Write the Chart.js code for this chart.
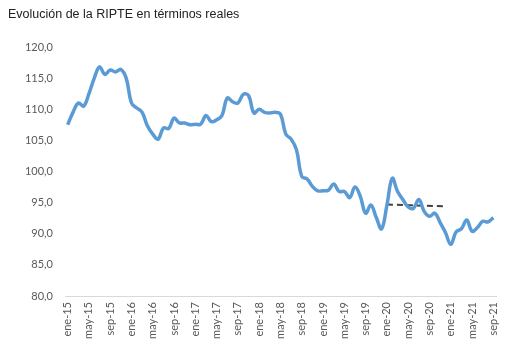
<!DOCTYPE html>
<html>
<head>
<meta charset="utf-8">
<script src="https://cdn.jsdelivr.net/npm/chart.js@4/dist/chart.umd.min.js"></script>
<style>
  html, body { margin: 0; padding: 0; background: #fff; }
  #wrap { position: relative; width: 517px; height: 364px; }
  #title { position: absolute; left: 8px; top: 7px; font: 12.5px "Liberation Sans", Arial, sans-serif; color: #222; }
</style>
</head>
<body>
<div id="wrap">
  <div id="title">Evolución de la RIPTE en términos reales</div>
  <canvas id="myChart" width="517" height="364"></canvas>
</div>
<script>
// meses ene-15 .. sep-21
const meses = ["ene", "feb", "mar", "abr", "may", "jun", "jul", "ago", "sep", "oct", "nov", "dic"];
const anios = ["15", "16", "17", "18", "19", "20", "21"];
const labels = [];
anios.forEach(a => meses.forEach(m => labels.push(m + "-" + a)));
labels.length = 81;

const ripte = [
  107.5, 109.5, 111.0, 110.5, 112.5, 115.0, 116.8, 115.6, 116.3, 116.0, 116.4, 115.0,
  111.0, 110.2, 109.5, 107.3, 106.0, 105.2, 107.0, 106.9, 108.6, 107.8, 107.8, 107.5,
  107.6, 107.6, 109.0, 108.0, 108.3, 109.0, 111.8, 111.2, 111.0, 112.4, 112.2, 109.4,
  110.0, 109.5, 109.4, 109.5, 109.2, 106.0, 105.2, 103.5, 99.2, 98.8, 97.6, 96.9,
  96.9, 97.0, 98.0, 96.8, 96.8, 95.8, 97.5, 96.0, 93.3, 94.6, 92.6, 90.8,
  94.6, 98.9, 96.8, 95.5, 94.3, 94.1, 95.5, 93.6, 92.8, 93.3, 91.8, 90.2,
  88.3, 90.3, 90.8, 92.2, 90.4, 91.0, 92.0, 91.9, 92.6
];

// tendencia 2020 (solo extremos)
const tendencia = labels.map(() => null);
tendencia[60] = 94.7;
tendencia[71] = 94.4;

const yTicks = [80, 85, 90, 95, 100, 105, 110, 115, 120];

const ctx = document.getElementById("myChart").getContext("2d");
new Chart(ctx, {
  type: "line",
  data: {
    labels: labels,
    datasets: [
      {
        data: ripte,
        borderColor: "#5B9BD5",
        borderWidth: 3.5,
        pointRadius: 0,
        tension: 0.4,
        fill: false
      },
      {
        data: tendencia,
        borderColor: "#404040",
        borderWidth: 2,
        borderDash: [6, 4],
        pointRadius: 0,
        spanGaps: true,
        fill: false
      }
    ]
  },
  options: {
    responsive: false,
    animation: false,
    layout: { padding: { top: 47, right: 21, bottom: 8, left: 0 } },
    plugins: { legend: { display: false }, tooltip: { enabled: false } },
    scales: {
      x: {
        offset: true,
        grid: { display: false, drawTicks: false },
        border: { display: true, color: "#d9d9d9", width: 1 },
        afterFit: s => { s.height = 60; },
        ticks: {
          autoSkip: false,
          minRotation: 90,
          maxRotation: 90,
          padding: 6,
          color: "#595959",
          font: { family: "Lato", size: 11 },
          callback: (v, i) => (i % 4 === 0 ? labels[i] : "")
        }
      },
      y: {
        min: 80,
        max: 120,
        afterFit: s => { s.width = 65; },
        afterBuildTicks: s => { s.ticks = yTicks.map(v => ({ value: v })); },
        grid: { display: false, drawTicks: false },
        border: { display: false },
        ticks: {
          padding: 12,
          color: "#595959",
          font: { family: "Lato", size: 11 },
          callback: v => v.toFixed(1).replace(".", ",")
        }
      }
    }
  }
});
</script>
</body>
</html>
